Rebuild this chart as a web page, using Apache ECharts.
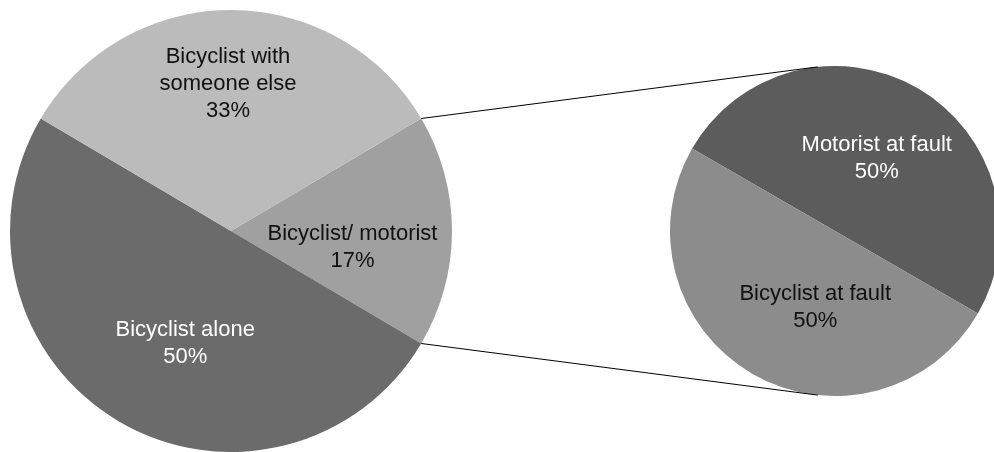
<!DOCTYPE html>
<html>
<head>
<meta charset="utf-8">
<script src="https://cdn.jsdelivr.net/npm/echarts@6/dist/echarts.min.js"></script>
<style>
html,body{margin:0;padding:0;background:#fff;}
#c{width:994px;height:452px;}
</style>
</head>
<body>
<div id="c"></div>
<script>
// Main pie
const mainNames = ['Bicyclist/ motorist', 'Bicyclist alone', 'Bicyclist with\nsomeone else'];
const mainValues = [17, 50, 33];
const mainColors = ['#a0a0a0', '#6b6b6b', '#bbbbbb'];
const mainLabelColors = ['#111111', '#ffffff', '#111111'];
// Secondary pie (breakdown of Bicyclist/ motorist)
const subNames = ['Motorist at fault', 'Bicyclist at fault'];
const subValues = [50, 50];
const subColors = ['#5c5c5c', '#8c8c8c'];
const subLabelColors = ['#ffffff', '#111111'];

const mainCenter = [231, 231], mainR = 221;
const subCenter = [835, 231], subR = 165;

const mainTotal = mainValues.reduce((a, b) => a + b, 0);
const halfSpan = mainValues[0] / mainTotal * 180; // degrees
const mainStart = halfSpan;

const mainOffsets = [[8, 16], [12, 15], [-3, -34]];
const subOffsets = [[-1, 1], [23, 2]];

const chart = echarts.init(document.getElementById('c'), null, {renderer: 'canvas'});

function pt(c, r, deg) {
  const a = deg * Math.PI / 180;
  return [c[0] + r * Math.cos(a), c[1] - r * Math.sin(a)];
}
const p1 = pt(mainCenter, mainR, halfSpan);
const p2 = pt(mainCenter, mainR, -halfSpan);
const q1 = pt(subCenter, subR, 96);
const q2 = pt(subCenter, subR, -96);

const labelFont = {fontFamily: 'Liberation Sans', fontSize: 22, lineHeight: 27};

chart.setOption({
  animation: false,
  backgroundColor: '#ffffff',
  graphic: [
    {type: 'line', shape: {x1: p1[0], y1: p1[1], x2: q1[0], y2: q1[1]}, style: {stroke: '#000', lineWidth: 1}, z: 10},
    {type: 'line', shape: {x1: p2[0], y1: p2[1], x2: q2[0], y2: q2[1]}, style: {stroke: '#000', lineWidth: 1}, z: 10}
  ],
  series: [
    {
      type: 'pie',
      center: mainCenter,
      radius: [0, mainR],
      startAngle: mainStart,
      clockwise: true,
      silent: true,
      itemStyle: {borderWidth: 0},
      label: Object.assign({show: true, position: 'inside', formatter: '{b}\n{d}%'}, labelFont),
      labelLayout: function (p) { const o = mainOffsets[p.dataIndex]; return {dx: o[0], dy: o[1]}; },
      data: mainNames.map((n, i) => ({name: n, value: mainValues[i], itemStyle: {color: mainColors[i]}, label: {color: mainLabelColors[i]}}))
    },
    {
      type: 'pie',
      center: subCenter,
      radius: [0, subR],
      startAngle: 150,
      clockwise: true,
      silent: true,
      itemStyle: {borderWidth: 0},
      label: Object.assign({show: true, position: 'inside', formatter: '{b}\n{d}%'}, labelFont),
      labelLayout: function (p) { const o = subOffsets[p.dataIndex]; return {dx: o[0], dy: o[1]}; },
      data: subNames.map((n, i) => ({name: n, value: subValues[i], itemStyle: {color: subColors[i]}, label: {color: subLabelColors[i]}}))
    }
  ]
});
</script>
</body>
</html>
